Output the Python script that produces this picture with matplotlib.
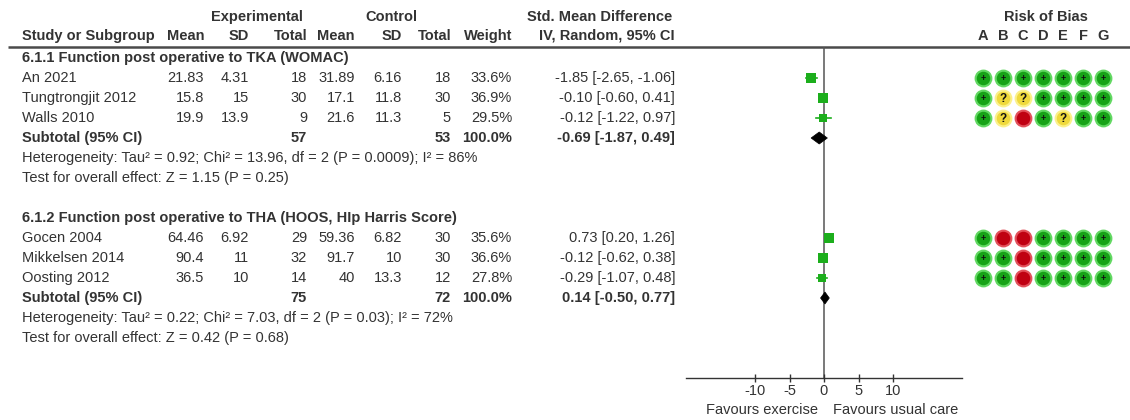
import matplotlib
matplotlib.use("Agg")
import matplotlib.pyplot as plt
from matplotlib.patches import Polygon

plt.rcParams['font.family'] = ['Liberation Sans', 'DejaVu Sans']

# ---- study-level data ----
studies = ["An 2021", "Tungtrongjit 2012", "Walls 2010",
           "Gocen 2004", "Mikkelsen 2014", "Oosting 2012"]
group_of = [0, 0, 0, 1, 1, 1]
exp_mean = [21.83, 15.8, 19.9, 64.46, 90.4, 36.5]
exp_sd = [4.31, 15, 13.9, 6.92, 11, 10]
exp_n = [18, 30, 9, 29, 32, 14]
ctl_mean = [31.89, 17.1, 21.6, 59.36, 91.7, 40]
ctl_sd = [6.16, 11.8, 11.3, 6.82, 10, 13.3]
ctl_n = [18, 30, 5, 30, 30, 12]
weight = [33.6, 36.9, 29.5, 35.6, 36.6, 27.8]
smd = [-1.85, -0.10, -0.12, 0.73, -0.12, -0.29]
ci_lo = [-2.65, -0.60, -1.22, 0.20, -0.62, -1.07]
ci_hi = [-1.06, 0.41, 0.97, 1.26, 0.38, 0.48]
risk_of_bias = ["+++++++", "+??++++", "+?-+?++",
                "+--++++", "++-++++", "++-++++"]

# ---- subgroup summaries ----
group_titles = ["6.1.1 Function post operative to TKA (WOMAC)",
                "6.1.2 Function post operative to THA (HOOS, HIp Harris Score)"]
group_exp_n = [57, 75]
group_ctl_n = [53, 72]
group_weight = [100.0, 100.0]
group_smd = [-0.69, 0.14]
group_lo = [-1.87, -0.50]
group_hi = [0.49, 0.77]
group_het = ["Heterogeneity: Tau\u00b2 = 0.92; Chi\u00b2 = 13.96, df = 2 (P = 0.0009); I\u00b2 = 86%",
             "Heterogeneity: Tau\u00b2 = 0.22; Chi\u00b2 = 7.03, df = 2 (P = 0.03); I\u00b2 = 72%"]
group_test = ["Test for overall effect: Z = 1.15 (P = 0.25)",
              "Test for overall effect: Z = 0.42 (P = 0.68)"]

axis_ticks = [-10, -5, 0, 5, 10]
axis_limits = (-20, 20)
bias_domains = ["A", "B", "C", "D", "E", "F", "G"]
favours_left = "Favours exercise"
favours_right = "Favours usual care"

# ---- layout (pixel grid of the 1130 x 420 canvas) ----
W, H = 1130, 420
TXT = '#333333'
FS = 10.5
GREEN = '#1cae1c'
row_h = 20
y_head1, y_head2, y_rule = 17, 36, 47
y_group = [58, 218]
y_axis = 378

col_left = 22
col_right = {'em': 204, 'es': 249, 'en': 307, 'cm': 355, 'cs': 402,
             'cn': 451, 'w': 512, 'ci': 675}

fig = plt.figure(figsize=(W / 100, H / 100), dpi=100)
lay = fig.add_axes([0, 0, 1, 1])
lay.set_xlim(0, W)
lay.set_ylim(H, 0)
lay.axis('off')


def txt(x, y, s, ha='left', bold=False, **kw):
    lay.text(x, y, s, ha=ha, va='center', fontsize=FS, color=TXT,
             fontweight='bold' if bold else 'normal', **kw)


# column headers
txt(257, y_head1, "Experimental", ha='center', bold=True)
txt(391, y_head1, "Control", ha='center', bold=True)
txt(600, y_head1, "Std. Mean Difference", ha='center', bold=True)
txt(col_left, y_head2, "Study or Subgroup", bold=True)
for key, lab in [('em', 'Mean'), ('es', 'SD'), ('en', 'Total'),
                 ('cm', 'Mean'), ('cs', 'SD'), ('cn', 'Total'), ('w', 'Weight')]:
    txt(col_right[key], y_head2, lab, ha='right', bold=True)
txt(col_right['ci'], y_head2, "IV, Random, 95% CI", ha='right', bold=True)
lay.plot([8, W], [y_rule, y_rule], color='#4a4a4a', lw=1.8,
         solid_capstyle='butt')

# forest axes shares the vertical pixel grid of the layout
fx0, fx1 = 686, 962
fax = fig.add_axes([fx0 / W, (H - y_axis) / H, (fx1 - fx0) / W, (y_axis - y_rule) / H])
fax.set_xlim(*axis_limits)
fax.set_ylim(y_axis, y_rule)
fax.patch.set_alpha(0)
for s in ['left', 'right', 'top']:
    fax.spines[s].set_visible(False)
fax.spines['bottom'].set_color('#333333')
fax.spines['bottom'].set_linewidth(1.0)
fax.set_yticks([])
fax.set_xticks(axis_ticks)
fax.set_xticklabels([str(t) for t in axis_ticks])
fax.tick_params(axis='x', direction='inout', length=6, width=1.0,
                color='#333333', labelsize=FS, labelcolor=TXT, pad=1)
fax.axvline(0, color='#555555', lw=1.1, zorder=1)
fax.text(-0.9, y_axis + 32, favours_left, ha='right', va='center',
         fontsize=FS, color=TXT, clip_on=False)
fax.text(1.3, y_axis + 32, favours_right, ha='left', va='center',
         fontsize=FS, color=TXT, clip_on=False)

# risk-of-bias axes (one column per domain)
rx0 = 973
rax = fig.add_axes([rx0 / W, (H - y_axis) / H, 140 / W, (y_axis - y_rule) / H])
rax.set_xlim(-0.5, len(bias_domains) - 0.5)
rax.set_ylim(y_axis, y_rule)
rax.axis('off')
txt(1046, y_head1, "Risk of Bias", ha='center', bold=True)
for j, d in enumerate(bias_domains):
    rax.text(j, y_head2, d, ha='center', va='center', fontsize=FS,
             color=TXT, fontweight='bold', clip_on=False)

bias_style = {'+': ('#62d862', '#17a317', '+'),
              '?': ('#fbf08a', '#efd93c', '?'),
              '-': ('#e2525c', '#c00012', '')}


def fmt(v):
    return f"{v:g}"


for g in range(len(group_titles)):
    y = y_group[g]
    txt(col_left, y, group_titles[g], bold=True)
    y += row_h
    for i in [k for k in range(len(studies)) if group_of[k] == g]:
        txt(col_left, y, studies[i])
        txt(col_right['em'], y, fmt(exp_mean[i]), ha='right')
        txt(col_right['es'], y, fmt(exp_sd[i]), ha='right')
        txt(col_right['en'], y, str(exp_n[i]), ha='right')
        txt(col_right['cm'], y, fmt(ctl_mean[i]), ha='right')
        txt(col_right['cs'], y, fmt(ctl_sd[i]), ha='right')
        txt(col_right['cn'], y, str(ctl_n[i]), ha='right')
        txt(col_right['w'], y, f"{weight[i]:.1f}%", ha='right')
        txt(col_right['ci'], y, f"{smd[i]:.2f} [{ci_lo[i]:.2f}, {ci_hi[i]:.2f}]", ha='right')
        # study estimate: CI whisker and weight-scaled square
        fax.plot([ci_lo[i], ci_hi[i]], [y, y], color=GREEN, lw=1.2, zorder=3)
        side = 1.12 * weight[i] ** 0.5
        fax.plot(smd[i], y, marker='s', markersize=side, color=GREEN,
                 markeredgewidth=0, zorder=4)
        # risk-of-bias judgements
        for j, mark in enumerate(risk_of_bias[i]):
            outer, inner, sym = bias_style[mark]
            rax.scatter(j, y, s=165, color=outer, zorder=2, linewidths=0)
            rax.scatter(j, y, s=95, color=inner, zorder=3, linewidths=0)
            if sym:
                rax.text(j, y + 0.5, sym, ha='center', va='center',
                         fontsize=6.5 if sym == '+' else 8.5,
                         fontweight='bold', color='#111111', zorder=4)
        y += row_h
    # subtotal row
    txt(col_left, y, "Subtotal (95% CI)", bold=True)
    txt(col_right['en'], y, str(group_exp_n[g]), ha='right', bold=True)
    txt(col_right['cn'], y, str(group_ctl_n[g]), ha='right', bold=True)
    txt(col_right['w'], y, f"{group_weight[g]:.1f}%", ha='right', bold=True)
    txt(col_right['ci'], y, f"{group_smd[g]:.2f} [{group_lo[g]:.2f}, {group_hi[g]:.2f}]",
        ha='right', bold=True)
    dia = Polygon([(group_lo[g], y), (group_smd[g], y - 6),
                   (group_hi[g], y), (group_smd[g], y + 6)],
                  closed=True, facecolor='black', edgecolor='black', lw=0.5, zorder=4)
    fax.add_patch(dia)
    y += row_h
    txt(col_left, y, group_het[g])
    y += row_h
    txt(col_left, y, group_test[g])

fig.savefig("out.png", dpi=100, facecolor='white')
